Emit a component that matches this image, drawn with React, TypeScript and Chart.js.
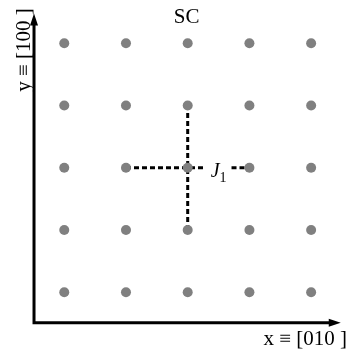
import React, { useEffect, useRef } from "react";
import { Chart, registerables } from "chart.js";

Chart.register(...registerables);

const gridX = [0, 1, 2, 3, 4];
const gridY = [0, 1, 2, 3, 4];
const hBondLeft = [{ x: 1, y: 2 }, { x: 2.29, y: 2 }];
const hBondRight = [{ x: 2.71, y: 2 }, { x: 3, y: 2 }];
const vBond = [{ x: 2, y: 1 }, { x: 2, y: 3 }];
const titleText = "SC";
const xAxisLabel = "x \u2261 [010 ]";
const yAxisLabel = "y \u2261 [100 ]";
const bondLabel = "J";
const bondSub = "1";

const SERIF = "'Liberation Serif', 'DejaVu Serif', serif";

const decorPlugin = {
  id: "decor",
  afterDatasetsDraw(chart: any) {
    const ctx = chart.ctx;
    const xs = chart.scales.x;
    const ys = chart.scales.y;
    const left = xs.getPixelForValue(-0.49);
    const right = xs.getPixelForValue(4.48);
    const bottom = ys.getPixelForValue(-0.49);
    const top = ys.getPixelForValue(4.48);
    ctx.save();
    ctx.strokeStyle = "#000";
    ctx.fillStyle = "#000";
    ctx.lineWidth = 3;
    ctx.lineCap = "butt";
    ctx.beginPath();
    ctx.moveTo(left, top + 10);
    ctx.lineTo(left, bottom);
    ctx.lineTo(right - 10, bottom);
    ctx.stroke();
    // arrowheads
    ctx.beginPath();
    ctx.moveTo(right, bottom);
    ctx.lineTo(right - 12, bottom - 4);
    ctx.lineTo(right - 12, bottom + 4);
    ctx.closePath();
    ctx.fill();
    ctx.beginPath();
    ctx.moveTo(left, top);
    ctx.lineTo(left - 4, top + 12);
    ctx.lineTo(left + 4, top + 12);
    ctx.closePath();
    ctx.fill();

    // title
    ctx.font = `21px ${SERIF}`;
    ctx.textAlign = "center";
    ctx.textBaseline = "alphabetic";
    ctx.fillText(titleText, xs.getPixelForValue(2) - 1, 23);

    // x label
    ctx.textAlign = "right";
    ctx.fillText(xAxisLabel, 347, 345);

    // y label
    ctx.save();
    ctx.translate(30, 50);
    ctx.rotate(-Math.PI / 2);
    ctx.textAlign = "center";
    ctx.fillText(yAxisLabel, 0, 0);
    ctx.restore();

    // bond label
    const bx = xs.getPixelForValue(2.5);
    const by = ys.getPixelForValue(2);
    ctx.font = `italic 20px ${SERIF}`;
    ctx.textAlign = "right";
    ctx.fillText(bondLabel, bx + 1, by + 9);
    ctx.font = `14px ${SERIF}`;
    ctx.textAlign = "left";
    ctx.fillText(bondSub, bx + 1, by + 14);
    ctx.restore();
  },
};

export default function App() {
  const ref = useRef<HTMLCanvasElement>(null);
  useEffect(() => {
    if (!ref.current) return;
    const points: { x: number; y: number }[] = [];
    for (const y of gridY) for (const x of gridX) points.push({ x, y });
    const dashStyle = {
      type: "line" as const,
      showLine: true,
      borderColor: "#000",
      borderWidth: 3,
      borderDash: [5, 3],
      pointRadius: 0,
      fill: false,
    };
    const chart = new Chart(ref.current, {
      type: "scatter",
      data: {
        datasets: [
          { ...dashStyle, data: hBondLeft, order: 2 },
          { ...dashStyle, data: hBondRight, order: 2 },
          { ...dashStyle, data: vBond, order: 2 },
          {
            data: points,
            pointRadius: 5,
            pointHoverRadius: 5,
            pointBackgroundColor: "#808080",
            pointBorderWidth: 0,
            borderWidth: 0,
            order: 1,
          } as any,
        ],
      },
      options: {
        animation: false,
        responsive: false,
        layout: { padding: { left: 33.4, right: 4.4, top: 12.2, bottom: 28.6 } },
        plugins: { legend: { display: false }, tooltip: { enabled: false }, title: { display: false } },
        events: [],
        scales: {
          x: { type: "linear", min: -0.5, max: 4.5, display: false },
          y: { type: "linear", min: -0.5, max: 4.5, display: false },
        },
      },
      plugins: [decorPlugin],
    });
    return () => chart.destroy();
  }, []);
  return (
    <div style={{ position: "fixed", left: 0, top: 0, width: 347, height: 352, background: "#fff" }}>
      <canvas ref={ref} width={347} height={352} style={{ width: 347, height: 352, display: "block" }} />
    </div>
  );
}
